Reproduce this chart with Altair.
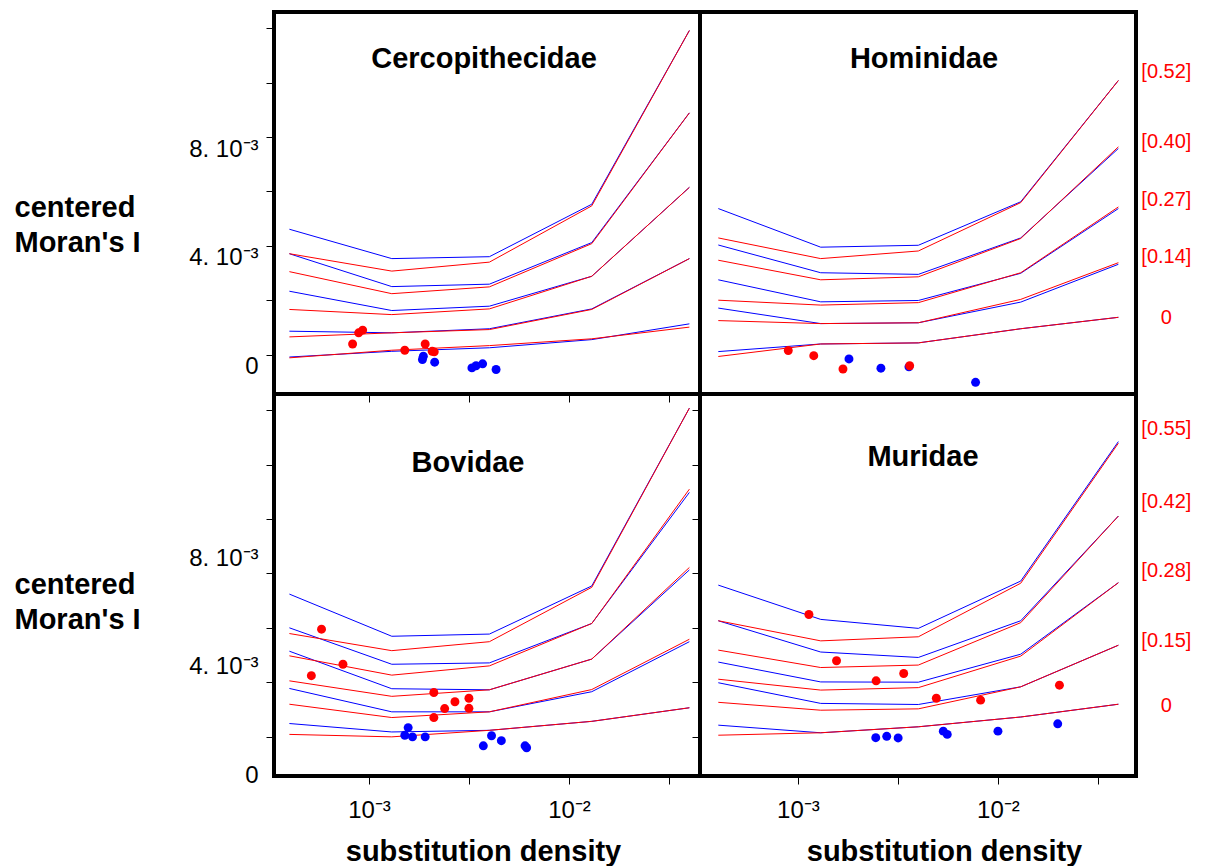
import altair as alt
import pandas as pd

# x positions (substitution density) of the simulated-quantile polylines
X_NODES = [0.0004, 0.0013, 0.004, 0.013, 0.04]

# centered Moran's I values, in units of 1e-3
TL_BLUE = [[4.61, 3.53, 3.60, 5.53, 11.92],
           [3.71, 2.50, 2.59, 4.12, 8.89],
           [2.33, 1.62, 1.78, 2.88, 6.15],
           [0.86, 0.80, 0.95, 1.68, 3.53],
           [-0.09, 0.12, 0.25, 0.55, 1.13]]
TL_RED = [[3.71, 3.07, 3.40, 5.47, 11.92],
          [3.05, 2.24, 2.49, 4.08, 8.89],
          [1.66, 1.47, 1.68, 2.88, 6.15],
          [0.65, 0.80, 0.92, 1.66, 3.53],
          [-0.12, 0.16, 0.33, 0.58, 1.01]]
TR_BLUE = [[5.37, 3.95, 4.02, 5.62, 10.08],
           [4.03, 3.01, 2.95, 4.29, 7.58],
           [2.75, 1.94, 1.99, 2.99, 5.37],
           [1.71, 1.14, 1.17, 1.93, 3.32],
           [0.11, 0.39, 0.43, 0.95, 1.37]]
TR_RED = [[4.29, 3.53, 3.81, 5.59, 10.08],
          [3.47, 2.75, 2.86, 4.27, 7.64],
          [2.00, 1.82, 1.91, 3.01, 5.43],
          [1.25, 1.14, 1.17, 2.03, 3.38],
          [-0.07, 0.39, 0.43, 0.95, 1.37]]
BL_BLUE = [[5.24, 3.69, 3.77, 5.54, 12.08],
           [4.00, 2.66, 2.71, 4.16, 8.98],
           [3.14, 1.76, 1.72, 2.85, 6.13],
           [1.77, 0.91, 0.91, 1.65, 3.49],
           [0.48, 0.17, 0.23, 0.56, 1.06]]
BL_RED = [[3.79, 3.16, 3.49, 5.49, 12.08],
          [2.97, 2.26, 2.60, 4.16, 9.10],
          [2.05, 1.48, 1.72, 2.85, 6.22],
          [1.19, 0.70, 0.91, 1.73, 3.58],
          [0.08, -0.01, 0.23, 0.56, 1.06]]
BR_BLUE = [[5.57, 4.31, 3.98, 5.72, 10.85],
           [4.26, 3.11, 2.91, 4.26, 8.11],
           [2.74, 2.01, 2.00, 3.03, 5.66],
           [1.98, 1.22, 1.18, 1.83, 3.36],
           [0.42, 0.14, 0.36, 0.72, 1.19]]
BR_RED = [[4.26, 3.52, 3.67, 5.64, 10.79],
          [3.18, 2.54, 2.63, 4.19, 8.11],
          [2.11, 1.71, 1.80, 2.96, 5.66],
          [1.26, 0.97, 1.02, 1.83, 3.36],
          [0.05, 0.14, 0.36, 0.72, 1.19]]

# observed points
TL_RED_PX = [8.28e-4, 8.88e-4, 9.3e-4, 1.51e-3, 1.91e-3, 2.07e-3, 2.12e-3]
TL_RED_PY = [0.39, 0.80, 0.90, 0.16, 0.39, 0.12, 0.10]
TL_BLUE_PX = [1.85e-3, 1.87e-3, 2.13e-3, 3.27e-3, 3.43e-3, 3.70e-3, 4.32e-3]
TL_BLUE_PY = [-0.18, -0.06, -0.28, -0.49, -0.41, -0.34, -0.55]

TR_RED_PX = [8.95e-4, 1.20e-3, 1.68e-3, 3.62e-3]
TR_RED_PY = [0.15, -0.04, -0.53, -0.41]
TR_BLUE_PX = [1.80e-3, 2.60e-3, 3.59e-3, 7.73e-3]
TR_BLUE_PY = [-0.16, -0.50, -0.45, -1.02]

BL_RED_PX = [5.79e-4, 7.41e-4, 5.15e-4, 2.11e-3, 2.69e-3, 3.16e-3, 2.39e-3, 3.16e-3, 2.11e-3]
BL_RED_PY = [3.95, 2.66, 2.24, 1.62, 1.28, 1.41, 1.03, 1.04, 0.70]
BL_BLUE_PX = [1.57e-3, 1.51e-3, 1.65e-3, 1.91e-3, 4.10e-3, 4.59e-3, 3.73e-3, 6.03e-3, 6.14e-3]
BL_BLUE_PY = [0.33, 0.05, -0.01, -0.01, 0.03, -0.15, -0.34, -0.34, -0.41]

BR_RED_PX = [1.135e-3, 1.56e-3, 2.46e-3, 3.38e-3, 4.92e-3, 8.19e-3, 2.03e-2]
BR_RED_PY = [4.49, 2.79, 2.05, 2.32, 1.41, 1.34, 1.89]
BR_BLUE_PX = [2.45e-3, 2.78e-3, 3.17e-3, 5.33e-3, 5.58e-3, 1.0e-2, 1.99e-2]
BR_BLUE_PY = [-0.04, 0.01, -0.05, 0.20, 0.08, 0.20, 0.47]

# red right-hand labels
TR_LABELS = ["[0.52]", "[0.40]", "[0.27]", "[0.14]", "0"]
TR_LABELS_Y = [10.40, 7.82, 5.68, 3.58, 1.36]
BR_LABELS = ["[0.55]", "[0.42]", "[0.28]", "[0.15]", "0"]
BR_LABELS_Y = [11.31, 8.62, 6.08, 3.50, 1.14]

PANEL_NAMES = ["Cercopithecidae", "Hominidae", "Bovidae", "Muridae"]

Y_DOMAIN = [-1.45, 12.6]
X_DOMAIN_LEFT = [0.000335, 0.0452]
X_DOMAIN_RIGHT = [0.000324, 0.0490]
Y_TICKS = [0, 2, 4, 6, 8, 10, 12]
X_TICKS = [0.001, 0.0031623, 0.01, 0.031623]

FONT = "Liberation Sans"
BLUE = "#0000ff"
RED = "#ff0000"
PANEL_H = 382
BIG = 29


def lines_df(rows, tag):
    recs = []
    for i, row in enumerate(rows):
        for x, y in zip(X_NODES, row):
            recs.append({"x": x, "y": y, "line": f"{tag}{i}"})
    return pd.DataFrame(recs)


def y_axis_labeled(label_offset, title_y):
    return alt.Axis(
        values=Y_TICKS,
        labelExpr="datum.value == 0 ? '0' : (datum.value == 4 ? '4. 10⁻³' : (datum.value == 8 ? '8. 10⁻³' : ''))",
        tickSize=8, tickColor="black", tickWidth=1, domain=False, grid=False,
        labelFont=FONT, labelFontSize=24, labelColor="black", labelPadding=8,
        labelOffset=label_offset, labelOverlap=False,
        title=["centered", "Moran's I"], titleAngle=0, titleAlign="left",
        titleBaseline="top", titleX=-260, titleY=title_y, titleFont=FONT,
        titleFontSize=BIG, titleFontWeight="bold", titleColor="black",
        titleLineHeight=35,
    )


def y_axis_ticks():
    return alt.Axis(values=Y_TICKS, labels=False, tickSize=8, tickColor="black",
                    domain=False, grid=False, title=None)


def x_axis_ticks():
    return alt.Axis(values=X_TICKS, labels=False, tickSize=8, tickColor="black",
                    domain=False, grid=False, title=None)


def x_axis_labeled(title_x):
    return alt.Axis(
        values=X_TICKS,
        labelExpr="datum.value == 0.001 ? '10⁻³' : (datum.value == 0.01 ? '10⁻²' : '')",
        tickSize=8, tickColor="black", tickWidth=1, domain=False, grid=False,
        labelFont=FONT, labelFontSize=24, labelColor="black", labelPadding=14,
        labelFlush=False, labelOverlap=False,
        title="substitution density", titleFont=FONT, titleFontSize=BIG,
        titleFontWeight="bold", titleColor="black", titleX=title_x, titleY=61,
        titleAlign="center", titleBaseline="top",
    )


def panel(name, blue, red, bpx, bpy, rpx, rpy, width, xdom, xaxis, yaxis,
          title_dx, title_off, labels=None, labels_y=None):
    xenc = alt.X("x:Q", scale=alt.Scale(type="log", domain=xdom, nice=False), axis=xaxis)
    yenc = alt.Y("y:Q", scale=alt.Scale(domain=Y_DOMAIN, nice=False, zero=False), axis=yaxis)
    layers = [
        alt.Chart(lines_df(blue, "b")).mark_line(color=BLUE, strokeWidth=1)
        .encode(x=xenc, y=yenc, detail="line:N"),
        alt.Chart(lines_df(red, "r")).mark_line(color=RED, strokeWidth=1)
        .encode(x=xenc, y=yenc, detail="line:N"),
        alt.Chart(pd.DataFrame({"x": bpx, "y": bpy}))
        .mark_circle(color=BLUE, size=80, opacity=1).encode(x=xenc, y=yenc),
        alt.Chart(pd.DataFrame({"x": rpx, "y": rpy}))
        .mark_circle(color=RED, size=80, opacity=1).encode(x=xenc, y=yenc),
    ]
    if labels is not None:
        ldf = pd.DataFrame({"x": [X_NODES[-1]] * len(labels), "y": labels_y, "t": labels})
        layers.append(
            alt.Chart(ldf).mark_text(dx=48, color=RED, fontSize=20, font=FONT,
                                     align="center", baseline="middle")
            .encode(x=xenc, y=yenc, text="t:N")
        )
    return alt.layer(*layers).properties(
        width=width, height=PANEL_H,
        title=alt.TitleParams(text=name, font=FONT, fontSize=BIG, fontWeight="bold",
                              color="black", anchor="middle", baseline="middle",
                              offset=title_off, dx=title_dx),
    )


tl = panel(PANEL_NAMES[0], TL_BLUE, TL_RED, TL_BLUE_PX, TL_BLUE_PY, TL_RED_PX, TL_RED_PY,
           426, X_DOMAIN_LEFT, x_axis_ticks(), y_axis_labeled(12, 181), -3, -76)
tr = panel(PANEL_NAMES[1], TR_BLUE, TR_RED, TR_BLUE_PX, TR_BLUE_PY, TR_RED_PX, TR_RED_PY,
           436, X_DOMAIN_RIGHT, None, None, 6, -76, TR_LABELS, TR_LABELS_Y)
bl = panel(PANEL_NAMES[2], BL_BLUE, BL_RED, BL_BLUE_PX, BL_BLUE_PY, BL_RED_PX, BL_RED_PY,
           426, X_DOMAIN_LEFT, x_axis_labeled(209), y_axis_labeled(39, 176), -19, -98)
br = panel(PANEL_NAMES[3], BR_BLUE, BR_RED, BR_BLUE_PX, BR_BLUE_PY, BR_RED_PX, BR_RED_PY,
           436, X_DOMAIN_RIGHT, x_axis_labeled(244), y_axis_ticks(), 5, -92, BR_LABELS, BR_LABELS_Y)

chart = alt.concat(tl, tr, bl, br, columns=2, spacing=0, bounds="flush", align="each").properties(
    padding={"left": 12, "top": 10, "right": 10, "bottom": 5}
).configure(background="white").configure_view(stroke="black", strokeWidth=4)

chart.save("out.html", embed_options={"renderer": "svg", "actions": False})
